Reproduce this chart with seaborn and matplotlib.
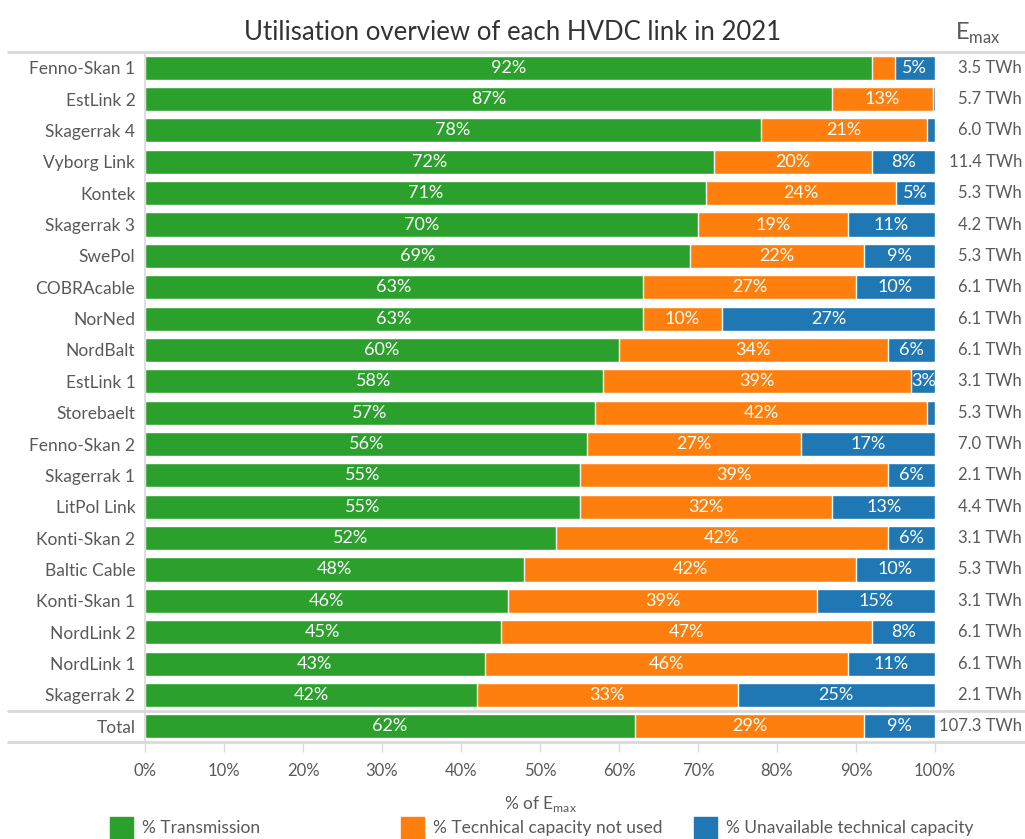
import matplotlib
matplotlib.use('Agg')
from matplotlib import pyplot as plt
from matplotlib.lines import Line2D
from matplotlib.patches import Rectangle
from matplotlib.transforms import blended_transform_factory
import numpy as np
import pandas as pd
import seaborn as sns

links = ["Fenno-Skan 1", "EstLink 2", "Skagerrak 4", "Vyborg Link", "Kontek",
         "Skagerrak 3", "SwePol", "COBRAcable", "NorNed", "NordBalt", "EstLink 1",
         "Storebaelt", "Fenno-Skan 2", "Skagerrak 1", "LitPol Link", "Konti-Skan 2",
         "Baltic Cable", "Konti-Skan 1", "NordLink 2", "NordLink 1", "Skagerrak 2",
         "Total"]
transmission = [92, 87, 78, 72, 71, 70, 69, 63, 63, 60, 58, 57, 56, 55, 55, 52,
                48, 46, 45, 43, 42, 62]
not_used = [2.9, 12.7, 21, 20, 24, 19, 22, 27, 10, 34, 39, 42, 27, 39, 32, 42,
            42, 39, 47, 46, 33, 29]
unavailable = [5.1, 0.3, 1, 8, 5, 11, 9, 10, 27, 6, 3, 1, 17, 6, 13, 6, 10, 15,
               8, 11, 25, 9]
emax = ["3.5 TWh", "5.7 TWh", "6.0 TWh", "11.4 TWh", "5.3 TWh", "4.2 TWh",
        "5.3 TWh", "6.1 TWh", "6.1 TWh", "6.1 TWh", "3.1 TWh", "5.3 TWh",
        "7.0 TWh", "2.1 TWh", "4.4 TWh", "3.1 TWh", "5.3 TWh", "3.1 TWh",
        "6.1 TWh", "6.1 TWh", "2.1 TWh", "107.3 TWh"]
legend_labels = ["% Transmission", "% Tecnhical capacity not used",
                 "% Unavailable technical capacity"]

GREEN = "#2ca02c"
ORANGE = "#ff7f0e"
BLUE = "#1f77b4"
GREY = "#595959"
LINE = "#d9d9d9"

sns.set_style("white")
plt.rcParams['font.family'] = ['Lato', 'DejaVu Sans']

df = pd.DataFrame({"Link": links, "Transmission": transmission,
                   "NotUsed": not_used, "Unavailable": unavailable})
df["c2"] = df["Transmission"] + df["NotUsed"]
df["c3"] = df["c2"] + df["Unavailable"]

fig = plt.figure(figsize=(10.25, 8.39), dpi=100)
ax = fig.add_axes([145 / 1025, 1 - 742 / 839, 790 / 1025, 690 / 839])

# stacked bars: draw the cumulative totals back to front
sns.barplot(data=df, y="Link", x="c3", color=BLUE, orient="h", width=0.77,
            saturation=1, ax=ax)
sns.barplot(data=df, y="Link", x="c2", color=ORANGE, orient="h", width=0.77,
            saturation=1, ax=ax)
sns.barplot(data=df, y="Link", x="Transmission", color=GREEN, orient="h",
            width=0.77, saturation=1, ax=ax)

for i, row in df.iterrows():
    segs = [(0, row["Transmission"]), (row["Transmission"], row["NotUsed"]),
            (row["c2"], row["Unavailable"])]
    for start, w in segs:
        if w >= 3:
            ax.text(start + w / 2, i, f"{w:.0f}%", ha="center", va="center",
                    color="white", fontsize=13)

ax.set_xlim(0, 100)
ax.set_ylim(len(links) - 0.5, -0.5)
ax.set_xticks(np.arange(0, 101, 10))
ax.set_xticklabels([f"{t}%" for t in range(0, 101, 10)])
ax.tick_params(axis="x", colors=LINE, labelcolor=GREY, labelsize=12,
               direction="out", length=7, width=1, pad=8, bottom=True)
ax.tick_params(axis="y", labelcolor=GREY, labelsize=12.5, length=0, pad=7)
ax.set_ylabel("")
ax.set_xlabel("% of E$_{\\mathregular{max}}$", color=GREY, fontsize=12.5,
              labelpad=11)
for s in ["top", "right", "bottom"]:
    ax.spines[s].set_visible(False)
ax.spines["left"].set_color(LINE)
ax.spines["left"].set_linewidth(1.2)

# E_max column on the right
tr = blended_transform_factory(fig.transFigure, ax.transData)
for i, e in enumerate(emax):
    ax.text(1022 / 1025, i, e, transform=tr, ha="right", va="center",
            color=GREY, fontsize=12)
fig.text(978 / 1025, 1 - 33 / 839, "E$_{\\mathregular{max}}$", ha="center",
         va="center", color=GREY, fontsize=17)

# separator lines
for y in [-0.5, len(links) - 1.5, len(links) - 0.5]:
    fig.add_artist(Line2D([8 / 1025, 1.0], [y, y], transform=tr, color=LINE,
                          linewidth=2, clip_on=False))

fig.suptitle("Utilisation overview of each HVDC link in 2021", y=1 - 20 / 839,
             fontsize=18.5, color="#333333")

# legend laid out like the original (fixed slots)
for x0, col, lab in zip([110, 401, 694], [GREEN, ORANGE, BLUE], legend_labels):
    fig.add_artist(Rectangle((x0 / 1025, 1 - 839 / 839), 23 / 1025, 22 / 839,
                             transform=fig.transFigure, color=col, clip_on=False))
    fig.text((x0 + 32) / 1025, 1 - 828 / 839, lab, ha="left", va="center",
             color=GREY, fontsize=12.5)

fig.savefig("out.png", dpi=100)
plt.close()
